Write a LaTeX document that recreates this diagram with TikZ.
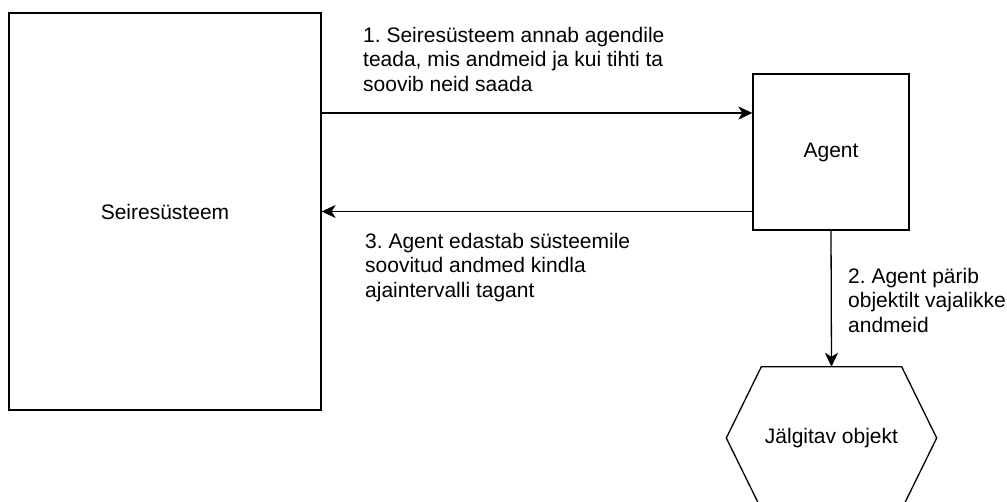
\documentclass[tikz,border=0pt]{standalone}
\usepackage{fontspec}
\setmainfont{Liberation Sans}
\frenchspacing
\usetikzlibrary{arrows.meta,positioning,calc}

\tikzset{
  box/.style={draw, line width=1.3pt, inner sep=0pt},
  lbl/.style={anchor=north west, align=left, inner sep=0pt},
  flow/.style={line width=1.3pt, -{Stealth[length=14pt,width=13pt,inset=4pt]}},
}

\begin{document}
\begin{tikzpicture}[x=1pt, y=-1pt, font=\fontsize{21}{24.8}\selectfont]
    \clip (0,0) rectangle (1007,501);

    \node[box, minimum width=312pt, minimum height=397pt] (sys) at (165,211.5) {Seiresüsteem};
    \node[box, minimum width=156pt, minimum height=156pt] (agent) at (831,152) {Agent};
    \node[minimum width=210pt, minimum height=142pt, inner sep=0pt] (obj) at (831.5,438) {Jälgitav objekt};
    \draw[line width=1.3pt] ($(obj.north west)+(35,0)$) -- ($(obj.north east)+(-35,0)$) -- (obj.east)
        -- ($(obj.south east)+(-35,0)$) -- ($(obj.south west)+(35,0)$) -- (obj.west) -- cycle;

    \coordinate (a) at ([yshift=39pt]agent.west);
    \draw[flow] (sys.east |- a) -- (a);
    \draw[flow] (agent.west |- sys.east) -- (sys.east);
    \draw[flow] (agent.south) -- (obj.north);

    \node[lbl] (ask) at (363,26.7) {1. Seiresüsteem annab agendile\\teada, mis andmeid ja kui tihti ta\\soovib neid saada};
    \node[lbl] (query) at (848,267.7) {2. Agent pärib\\objektilt vajalikke\\andmeid};
    \node[lbl] (send) at (365,232.7) {3. Agent edastab süsteemile\\soovitud andmed kindla\\ajaintervalli tagant};
\end{tikzpicture}
\end{document}
